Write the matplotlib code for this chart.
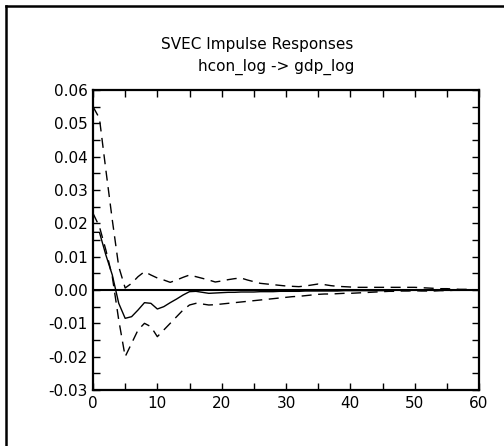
import matplotlib
matplotlib.use("Agg")
import matplotlib.pyplot as plt
from matplotlib.lines import Line2D
from matplotlib.ticker import MultipleLocator, FormatStrFormatter

periods = list(range(61))

response = [0.0173, 0.0173, 0.0105, 0.0045, -0.0040, -0.0085, -0.0080, -0.0060, -0.0038, -0.0040,
            -0.0057, -0.0050, -0.0038, -0.0027, -0.0015, -0.0005, -0.0004, -0.0007, -0.0010, -0.0009,
            -0.0008, -0.0007, -0.0007, -0.0006, -0.0006, -0.0006, -0.0005, -0.0005, -0.0005, -0.0004,
            -0.0004, -0.0004, -0.0004, -0.0003, -0.0003, -0.0003, -0.0003, -0.0003, -0.0003, -0.0002,
            -0.0002, -0.0002, -0.0002, -0.0002, -0.0002, -0.0002, -0.0002, -0.0001, -0.0001, -0.0001,
            -0.0001, -0.0001, -0.0001, -0.0001, -0.0001, -0.0001, -0.0001, -0.0001, -0.0001, -0.0001,
            -0.0001]

upper = [0.0550, 0.0515, 0.0360, 0.0210, 0.0070, 0.0006, 0.0020, 0.0040, 0.0055, 0.0045,
         0.0036, 0.0030, 0.0023, 0.0030, 0.0038, 0.0045, 0.0040, 0.0035, 0.0030, 0.0024,
         0.0027, 0.0031, 0.0034, 0.0036, 0.0030, 0.0025, 0.0020, 0.0018, 0.0016, 0.0014,
         0.0012, 0.0011, 0.0010, 0.0012, 0.0015, 0.0018, 0.0016, 0.0013, 0.0011, 0.0010,
         0.0009, 0.0008, 0.0008, 0.0008, 0.0008, 0.0008, 0.0008, 0.0008, 0.0008, 0.0008,
         0.0008, 0.0007, 0.0006, 0.0005, 0.0004, 0.0004, 0.0003, 0.0002, 0.0002, 0.0001,
         0.0000]

lower = [0.0230, 0.0190, 0.0120, 0.0040, -0.0090, -0.0200, -0.0160, -0.0120, -0.0100, -0.0110,
         -0.0140, -0.0120, -0.0100, -0.0080, -0.0060, -0.0045, -0.0040, -0.0042, -0.0045, -0.0044,
         -0.0042, -0.0040, -0.0038, -0.0036, -0.0034, -0.0032, -0.0030, -0.0028, -0.0026, -0.0024,
         -0.0022, -0.0020, -0.0019, -0.0017, -0.0015, -0.0013, -0.0012, -0.0012, -0.0011, -0.0010,
         -0.0010, -0.0009, -0.0008, -0.0007, -0.0006, -0.0005, -0.0004, -0.0004, -0.0003, -0.0003,
         -0.0002, -0.0003, -0.0003, -0.0003, -0.0002, -0.0002, -0.0001, -0.0001, 0.0000, 0.0001,
         0.0001]

title = "SVEC Impulse Responses"
subtitle = "hcon_log -> gdp_log"

W, H = 504, 446
fig = plt.figure(figsize=(W / 100, H / 100), dpi=100)
fig.patch.set_facecolor("white")

ax = fig.add_axes([93 / W, 1 - 390 / H, (479 - 93) / W, (390 - 90) / H])
ax.plot(periods, response, color="black", lw=1.0)
ax.plot(periods, upper, color="black", lw=1.0, dashes=(7.2, 4.7))
ax.plot(periods, lower, color="black", lw=1.0, dashes=(7.2, 4.7))
ax.axhline(0, color="black", lw=1.5)

ax.set_xlim(0, 60)
ax.set_ylim(-0.03, 0.06)
ax.xaxis.set_major_locator(MultipleLocator(10))
ax.xaxis.set_minor_locator(MultipleLocator(5))
ax.yaxis.set_major_locator(MultipleLocator(0.01))
ax.yaxis.set_minor_locator(MultipleLocator(0.005))
ax.yaxis.set_major_formatter(FormatStrFormatter("%.2f"))
ax.tick_params(which="both", direction="in", top=True, right=True, length=5, width=1.0,
               labelsize=11, pad=4, colors="black")
for s in ax.spines.values():
    s.set_linewidth(1.6)

fig.text(257 / W, 1 - 45 / H, title, ha="center", va="center", fontsize=11)
fig.text(276 / W, 1 - 67 / H, subtitle, ha="center", va="center", fontsize=11)

fig.add_artist(Line2D([6 / W, 6 / W], [0, 1 - 6 / H], transform=fig.transFigure, color="black", lw=1.8))
fig.add_artist(Line2D([6 / W, 1], [1 - 6 / H, 1 - 6 / H], transform=fig.transFigure, color="black", lw=1.8))

fig.savefig("out.png", dpi=100)
